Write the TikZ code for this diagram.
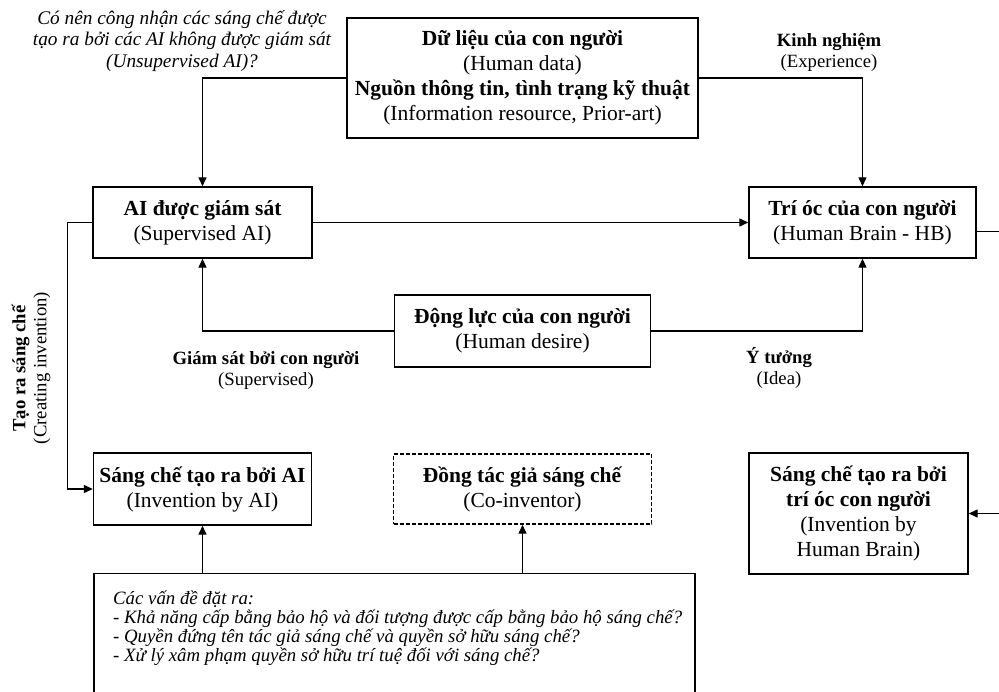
\documentclass[tikz,border=0pt]{standalone}
\usepackage{fontspec}
\setmainfont{Liberation Serif}
\usetikzlibrary{arrows.meta}

\begin{document}
\begin{tikzpicture}[x=1pt, y=-1pt]
  \tikzstyle{box} = [rectangle, draw=black, line width=1.4pt, text centered, align=center, font=\fontsize{21.5}{25}\selectfont]
  \tikzstyle{lbl} = [align=center, font=\fontsize{18.7}{21}\selectfont]
  \tikzstyle{arrow} = [line width=1.3pt, -{Triangle[length=9pt,width=8pt]}]

  \useasboundingbox (0,0) rectangle (999,692);

  \node (data) [box, minimum width=351pt, minimum height=120pt] at (522.5,78) {\textbf{Dữ liệu của con người}\\(Human data)\\\textbf{Nguồn thông tin, tình trạng kỹ thuật}\\(Information resource, Prior-art)};
  \node (sup) [box, minimum width=219pt, minimum height=71pt] at (202.5,222.5) {\textbf{AI được giám sát}\\(Supervised AI)};
  \node (hb) [box, right of=sup, node distance=660pt, minimum width=227pt, minimum height=71pt] {\textbf{Trí óc của con người}\\(Human Brain - HB)};
  \node (desire) [box, below of=data, node distance=253pt, minimum width=256pt, minimum height=72pt] {\textbf{Động lực của con người}\\(Human desire)};
  \node (invai) [box, below of=sup, node distance=266.5pt, minimum width=218pt, minimum height=72pt] {\textbf{Sáng chế tạo ra bởi AI}\\(Invention by AI)};
  \node (coinv) [box, right of=invai, node distance=320pt, minimum width=258pt, minimum height=70pt, dash pattern=on 4pt off 2pt] {\textbf{Đồng tác giả sáng chế}\\(Co-inventor)};
  \node (invhb) [box, below of=hb, node distance=291pt, xshift=-4pt, minimum width=219pt, minimum height=121pt] {\textbf{Sáng chế tạo ra bởi}\\\textbf{trí óc con người}\\(Invention by\\Human Brain)};
  \node (issues) [box, anchor=north, minimum width=601pt, minimum height=130pt] at (394.5,573) {};
  \node (issuetext) [anchor=north west, align=left, inner sep=0pt, font=\itshape\fontsize{18.8}{19}\selectfont] at (113,591) {Các vấn đề đặt ra:\\- Khả năng cấp bằng bảo hộ và đối tượng được cấp bằng bảo hộ sáng chế?\\- Quyền đứng tên tác giả sáng chế và quyền sở hữu sáng chế?\\- Xử lý xâm phạm quyền sở hữu trí tuệ đối với sáng chế?};

  % labels
  \node (ask) [lbl, font=\itshape\fontsize{19.3}{21.5}\selectfont] at (182,41) {Có nên công nhận các sáng chế được\\tạo ra bởi các AI không được giám sát\\(Unsupervised AI)?};
  \node (exp) [lbl] at (829,52) {\textbf{Kinh nghiệm}\\(Experience)};
  \node (supl) [lbl] at (266,370) {\textbf{Giám sát bởi con người}\\(Supervised)};
  \node (idea) [lbl] at (779,368) {\textbf{Ý tưởng}\\(Idea)};
  \node (create) [lbl, rotate=90] at (31,368) {\textbf{Tạo ra sáng chế}\\(Creating invention)};

  \draw [arrow] (data.west) -| (sup.north);
  \draw [arrow] (data.east) -| (hb.north);
  \draw [arrow] (sup.east) -- (hb.west);
  \draw [arrow] (desire.west) -| (sup.south);
  \draw [arrow] (desire.east) -| (hb.south);
  \draw [arrow] (sup.west) -- ++(-25,0) |- (invai.west);
  \draw [arrow] ([yshift=-9pt]hb.east) -- ++(40,0) |- (invhb.east);
  \draw [arrow] (issues.north -| invai.south) -- (invai.south);
  \draw [arrow] (issues.north -| coinv.south) -- (coinv.south);
\end{tikzpicture}
\end{document}
